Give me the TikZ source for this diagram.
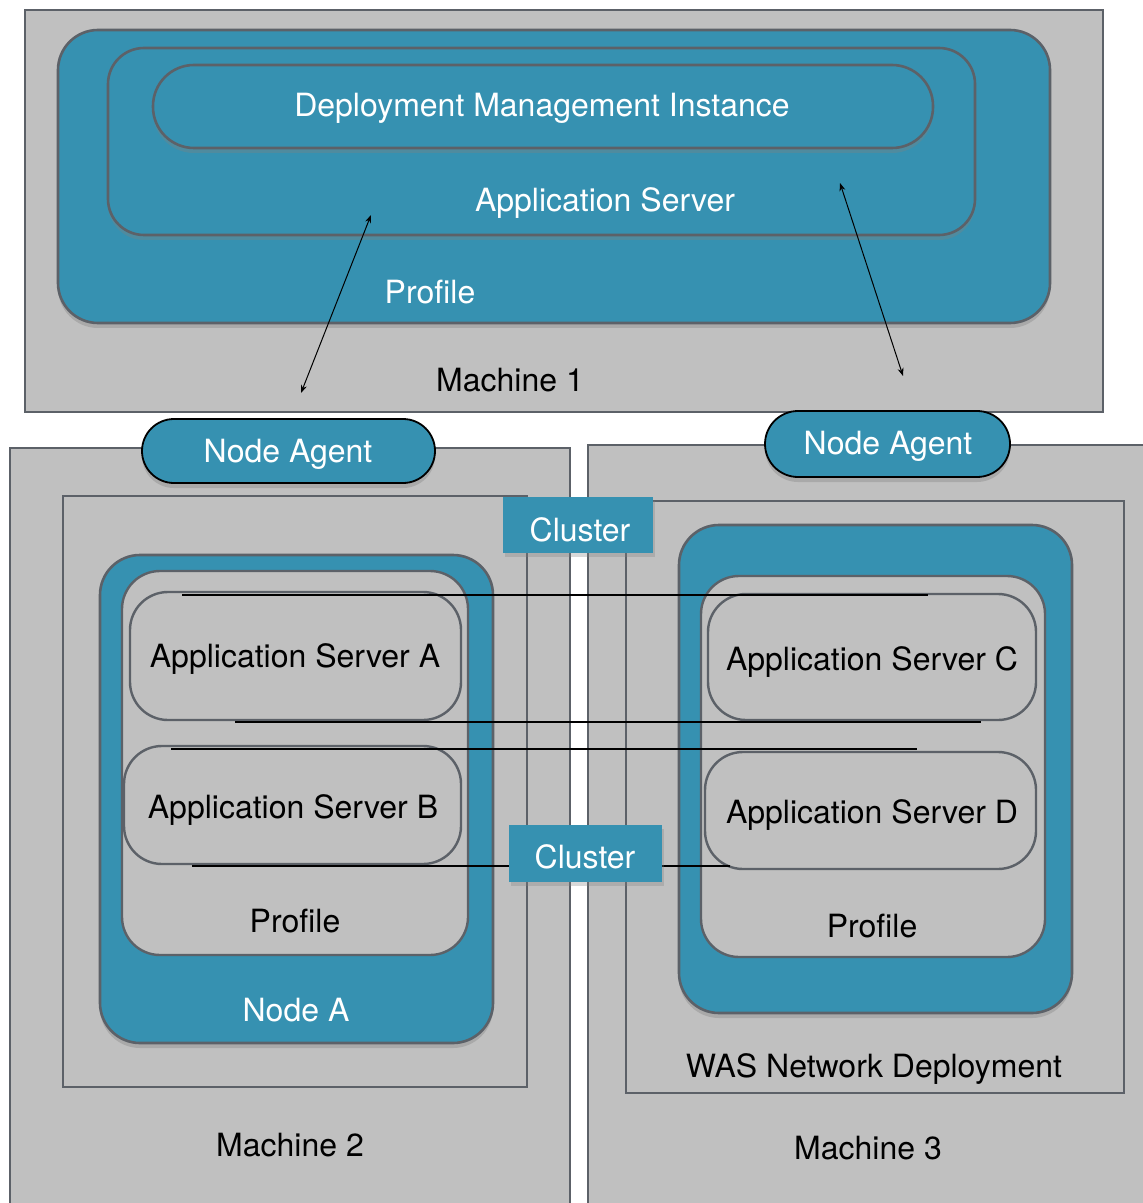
\documentclass[tikz,border=0pt]{standalone}
\usepackage{fontspec}
\setmainfont{TeX Gyre Heros}
\usetikzlibrary{fit,shadows,arrows.meta}
\definecolor{mgray}{RGB}{192,192,192}
\definecolor{edgegray}{RGB}{92,97,104}
\definecolor{tealfill}{RGB}{54,145,177}
\tikzset{
  machine/.style={fill=mgray, draw=edgegray, line width=1.2pt, inner sep=0pt},
  tealbox/.style={fill=tealfill, draw=edgegray, line width=1.3pt, rounded corners=20pt, inner sep=0pt,
     drop shadow={shadow xshift=0pt, shadow yshift=-2.5pt, opacity=0.35}},
  graybox/.style={fill=mgray, draw=edgegray, line width=1.2pt, rounded corners=19pt, inner sep=0pt},
  agent/.style={fill=tealfill, draw=black, line width=0.9pt, rounded corners=16pt, inner sep=0pt,
     drop shadow={shadow xshift=0pt, shadow yshift=-2.5pt, opacity=0.35}},
  clusterbox/.style={fill=tealfill, inner sep=0pt,
     drop shadow={shadow xshift=1pt, shadow yshift=-2pt, opacity=0.3}},
  wtext/.style={text=white, font=\fontsize{16}{19}\selectfont, inner sep=0pt},
  btext/.style={text=black, font=\fontsize{16}{19}\selectfont, inner sep=0pt},
  link/.style={line width=0.55pt, draw=black},
  dbl/.style={line width=0.5pt, draw=black, {Stealth[length=4pt,width=3pt]}-{Stealth[length=4pt,width=3pt]}}
}
\begin{document}
\begin{tikzpicture}[x=0.5pt,y=-0.5pt]
\useasboundingbox[fill=white] (0,0) rectangle (1142,1203);

% Machine 1
\node[machine, fit={(25,10) (1103,412)}] (m1) {};
\node[tealbox, fit={(58,30) (1050,323)}] (prof1) {};
\node[tealbox, rounded corners=18pt, fit={(108,48) (975,235)}] (as1) {};
\node[tealbox, rounded corners=20.5pt, fit={(153,65) (933,148)}] (dmi) {};
\node[wtext] (tdmi) at (542,108) {Deployment Management Instance};
\node[wtext] (tas1) at (605,203) {Application Server};
\node[wtext] (tprof1) at (430,292) {Profile};
\node[btext] (tm1) at (510,380) {Machine 1};

% Machines 2 and 3
\node[machine, fit={(10,448) (570,1220)}] (m2) {};
\node[machine, fit={(588,445) (1160,1220)}] (m3) {};
\node[btext] (tm2) at (290,1145) {Machine 2};
\node[btext] (tm3) at (868,1148) {Machine 3};

% WAS network deployment
\node[machine, fit={(63,496) (527,1087)}] (wasl) {};
\node[machine, fit={(626,501) (1124,1093)}] (wasr) {};
\node[btext] (twas) at (874,1069) {WAS Network Deployment};

% Node agents
\node[agent, fit={(142,419) (435,483)}] (na1) {};
\node[wtext] (tna1) at (288,454) {Node Agent};
\node[agent, rounded corners=16.5pt, fit={(765,411) (1010,477)}] (na2) {};
\node[wtext] (tna2) at (888,446) {Node Agent};

% Node A (left)
\node[tealbox, fit={(100,555) (493,1043)}] (nodea) {};
\node[wtext] (tnodea) at (296,1010) {Node A};
\node[graybox, fit={(122,571) (468,955)}] (profl) {};
\node[btext] (tprofl) at (295,921) {Profile};
\node[graybox, fit={(130,592) (461,720)}] (asa) {};
\node[btext] (tasa) at (295,659) {Application Server A};
\node[graybox, fit={(124,746) (461,864)}] (asb) {};
\node[btext] (tasb) at (293,810) {Application Server B};

% Node (right)
\node[tealbox, fit={(679,525) (1072,1013)}] (nodeb) {};
\node[graybox, fit={(701,576) (1045,957)}] (profr) {};
\node[btext] (tprofr) at (872,926) {Profile};
\node[graybox, fit={(708,594) (1036,720)}] (asc) {};
\node[btext] (tasc) at (872,662) {Application Server C};
\node[graybox, fit={(705,752) (1036,869)}] (asd) {};
\node[btext] (tasd) at (872,815) {Application Server D};

% Cluster lines
\coordinate (c1a) at (182,595);
\coordinate (c1b) at (928,595);
\coordinate (c2a) at (235,722);
\coordinate (c2b) at (981,722);
\coordinate (c3a) at (171,749);
\coordinate (c3b) at (917,749);
\coordinate (c4a) at (192,866);
\coordinate (c4b) at (730,866);
\draw[link] (c1a) -- (c1b);
\draw[link] (c2a) -- (c2b);
\draw[link] (c3a) -- (c3b);
\draw[link] (c4a) -- (c4b);

% Cluster labels
\node[clusterbox, fit={(503,497) (653,553)}] (cl1) {};
\node[wtext] (tcl1) at (580,530) {Cluster};
\node[clusterbox, fit={(509,825) (662,882)}] (cl2) {};
\node[wtext] (tcl2) at (585,857) {Cluster};

% Arrows between DMI and node agents
\coordinate (a1s) at (371,215);
\coordinate (a1e) at (301,393);
\coordinate (a2s) at (840,183);
\coordinate (a2e) at (903,376);
\draw[dbl] (a1s) -- (a1e);
\draw[dbl] (a2s) -- (a2e);
\end{tikzpicture}
\end{document}
